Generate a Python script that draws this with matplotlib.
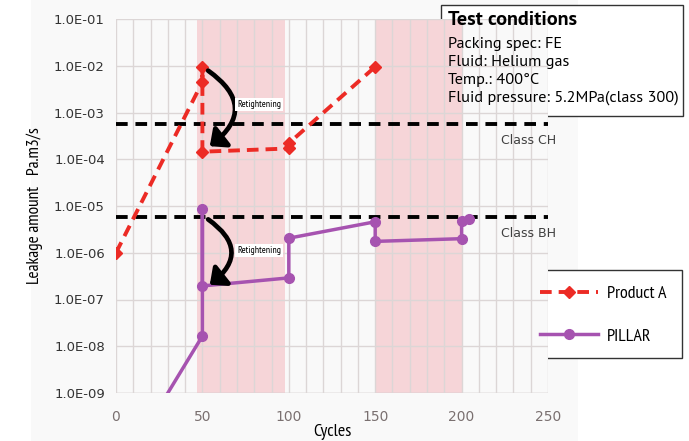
import matplotlib
matplotlib.use("Agg")
import matplotlib.pyplot as plt
from matplotlib.patches import FancyArrowPatch, Rectangle
from matplotlib import font_manager

names = {f.name for f in font_manager.fontManager.ttflist}
def pick(cands):
    for c in cands:
        if c in names:
            return c
    return 'DejaVu Sans'
cond = pick(['Myriad Pro Condensed', 'PT Sans Narrow', 'Roboto Condensed', 'Asap Condensed',
             'Archivo Narrow', 'Liberation Sans Narrow'])
myr = pick(['Myriad Pro', 'PT Sans', 'Source Sans Pro', 'Fira Sans', 'Open Sans'])

# ---- data ----
prodA_x = [0, 50, 50, 50, 100, 100, 150]
prodA_y = [1.0e-6, 4.5e-3, 9.5e-3, 1.45e-4, 1.7e-4, 2.2e-4, 9.5e-3]
pillar_x = [0, 50, 50, 50, 100, 100, 150, 150, 200, 200, 204]
pillar_y = [1.5e-11, 1.65e-8, 8.7e-6, 1.95e-7, 2.9e-7, 2.05e-6, 4.6e-6, 1.75e-6, 2.0e-6, 4.7e-6, 5.3e-6]
class_ch = 5.7e-4
class_bh = 5.7e-6
shade_spans = [(47, 98), (150, 201)]
yticks = [1e-9, 1e-8, 1e-7, 1e-6, 1e-5, 1e-4, 1e-3, 1e-2, 1e-1]
ytick_labels = ["1.0E-09", "1.0E-08", "1.0E-07", "1.0E-06", "1.0E-05",
                "1.0E-04", "1.0E-03", "1.0E-02", "1.0E-01"]
xticks = [0, 50, 100, 150, 200, 250]

fig = plt.figure(figsize=(6.89, 4.41), dpi=100)
fig.patch.set_facecolor('white')
fig.patches.append(Rectangle((31/689, 0), (578-31)/689, 1, transform=fig.transFigure,
                             facecolor='#f9f9f9', edgecolor='none', zorder=-10))
ax = fig.add_axes([116/689, 1-393/441, (548-116)/689, (393-19)/441])
ax.set_facecolor('#f9f9f9')
ax.set_yscale('log')
ax.set_xlim(0, 250)
ax.set_ylim(1e-9, 1e-1)

for a, b in shade_spans:
    ax.axvspan(a, b, facecolor='#f5c6ca', alpha=0.7, edgecolor='none', zorder=0)

ax.set_xticks(range(0, 251, 10), minor=True)
ax.set_xticks(xticks)
ax.set_yticks(yticks)
ax.set_yticklabels(ytick_labels)
ax.yaxis.set_minor_locator(matplotlib.ticker.NullLocator())
ax.grid(True, which='both', axis='x', color='#dcd6d6', lw=1.0, zorder=1)
ax.grid(True, which='major', axis='y', color='#dcd6d6', lw=1.0, zorder=1)
ax.tick_params(which='both', length=0)
ax.tick_params(axis='x', colors='#7a7070', labelsize=10, pad=12)
ax.tick_params(axis='y', colors='#333333', labelsize=9.5, pad=8)
for s in ax.spines.values():
    s.set_visible(False)
ax.plot([0, 250], [1e-9, 1e-9], color='#cfcaca', lw=1, zorder=1)

ax.plot([0, 250], [class_ch, class_ch], color='black', lw=2.8, ls=(0, (3, 2)), zorder=3)
ax.plot([0, 250], [class_bh, class_bh], color='black', lw=2.8, ls=(0, (3, 2)), zorder=3)
ax.text(239, 2.5e-4, 'Class CH', fontsize=9, color='#404040', ha='center', va='center')
ax.text(239, 2.6e-6, 'Class BH', fontsize=9, color='#404040', ha='center', va='center')

lA, = ax.plot(prodA_x, prodA_y, color='#ec2b25', lw=2.8, ls=(0, (3, 1.8)), marker='D',
              ms=6, zorder=5, label='Product A')
lP, = ax.plot(pillar_x, pillar_y, color='#a653b0', lw=2.5, marker='o', ms=7, zorder=5,
              label='PILLAR')

for y0, y1, ty in [(8.5e-3, 1.75e-4, 1.5e-3), (5.6e-6, 1.9e-7, 1.1e-6)]:
    arr = FancyArrowPatch((52, y0), (53, y1), connectionstyle='arc3,rad=-0.7',
                          arrowstyle='-|>,head_length=5,head_width=4.5', lw=3.4,
                          color='black', zorder=6, mutation_scale=1.7)
    ax.add_patch(arr)
    ax.text(83, ty, 'Retightening', fontsize=7, family=cond, ha='center', va='center',
            zorder=7, bbox=dict(facecolor='white', edgecolor='none', pad=1.5))

ax.set_xlabel('Cycles', fontsize=13, family=cond, labelpad=0)
ax.set_ylabel('Leakage amount   Pa.m3/s', fontsize=12.5, family=cond, labelpad=8)

fig.text(448/689, 1-20/441, 'Test conditions', fontsize=14.5, family=myr, weight='bold',
         va='center', ha='left')
fig.text(448/689, 1-37/441,
         'Packing spec: FE\nFluid: Helium gas\nTemp.: 400°C\nFluid pressure: 5.2MPa(class 300)',
         fontsize=11.7, family=myr, va='top', ha='left', linespacing=1.35)
fig.patches.append(Rectangle((441/689, 1-116/441), (683-441)/689, (116-5)/441,
                             transform=fig.transFigure, facecolor='white',
                             edgecolor='#333333', lw=1.0, zorder=-1))

fig.patches.append(Rectangle((534/689, 1-358/441), (682-534)/689, (358-270)/441,
                             transform=fig.transFigure, facecolor='white',
                             edgecolor='#333333', lw=1.0, zorder=-1))
leg = fig.legend(handles=[lA, lP], loc='upper left', bbox_to_anchor=(534/689, 1-279/441),
                 frameon=False, prop={'family': cond, 'size': 13}, handlelength=3.2,
                 labelspacing=1.45, borderpad=0.35, handletextpad=0.5, borderaxespad=0)

fig.savefig('out.png', dpi=100)
